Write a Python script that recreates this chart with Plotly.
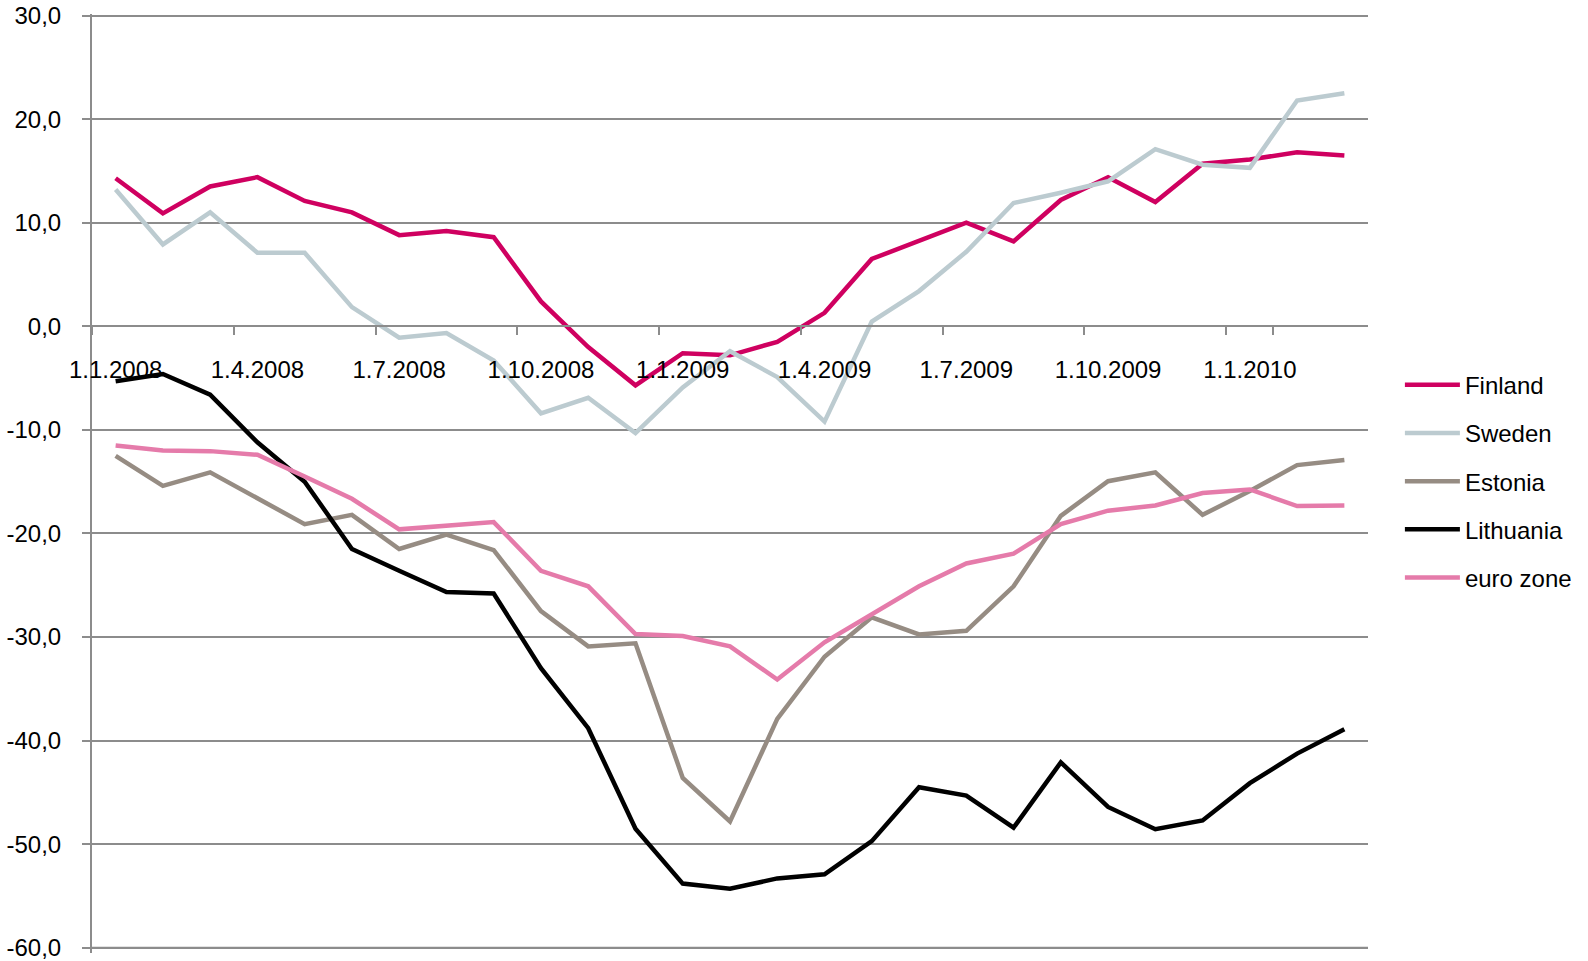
import plotly.graph_objects as go

months = ["1.1.2008", "1.2.2008", "1.3.2008", "1.4.2008", "1.5.2008", "1.6.2008",
          "1.7.2008", "1.8.2008", "1.9.2008", "1.10.2008", "1.11.2008", "1.12.2008",
          "1.1.2009", "1.2.2009", "1.3.2009", "1.4.2009", "1.5.2009", "1.6.2009",
          "1.7.2009", "1.8.2009", "1.9.2009", "1.10.2009", "1.11.2009", "1.12.2009",
          "1.1.2010", "1.2.2010", "1.3.2010"]

x_tick_labels = ["1.1.2008", "1.4.2008", "1.7.2008", "1.10.2008", "1.1.2009",
                 "1.4.2009", "1.7.2009", "1.10.2009", "1.1.2010"]

finland = [14.3, 10.9, 13.5, 14.4, 12.1, 11.0, 8.8, 9.2, 8.6, 2.4, -2.0, -5.7, -2.6,
           -2.8, -1.5, 1.3, 6.5, 8.2, 10.0, 8.2, 12.2, 14.4, 12.0, 15.7, 16.1, 16.8, 16.5]
sweden = [13.2, 7.9, 11.0, 7.1, 7.1, 1.85, -1.1, -0.65, -3.3, -8.4, -6.9, -10.3, -5.9,
          -2.4, -4.9, -9.2, 0.45, 3.4, 7.2, 11.9, 12.9, 14.0, 17.1, 15.6, 15.3, 21.8, 22.5]
estonia = [-12.5, -15.4, -14.1, -16.6, -19.1, -18.2, -21.5, -20.1, -21.6, -27.5, -30.9,
           -30.6, -43.6, -47.8, -37.9, -31.9, -28.1, -29.75, -29.4, -25.1, -18.3, -14.95,
           -14.1, -18.2, -15.9, -13.4, -12.9]
lithuania = [-5.3, -4.6, -6.6, -11.2, -15.0, -21.5, -23.6, -25.65, -25.8, -33.0, -38.8,
             -48.5, -53.8, -54.3, -53.3, -52.9, -49.7, -44.5, -45.3, -48.4, -42.1, -46.4,
             -48.55, -47.7, -44.1, -41.25, -38.9]
euro_zone = [-11.5, -12.0, -12.05, -12.4, -14.5, -16.65, -19.6, -19.2, -18.9, -23.6, -25.1,
             -29.7, -29.9, -30.9, -34.1, -30.5, -27.75, -25.1, -22.9, -21.95, -19.1, -17.8,
             -17.3, -16.1, -15.75, -17.35, -17.3]

y_tick_vals = [30, 20, 10, 0, -10, -20, -30, -40, -50, -60]
y_tick_labels = ["30,0", "20,0", "10,0", "0,0", "-10,0", "-20,0", "-30,0", "-40,0",
                 "-50,0", "-60,0"]

series = [
    ("Finland", finland, "#CF0060"),
    ("Sweden", sweden, "#BCCBD0"),
    ("Estonia", estonia, "#968C83"),
    ("Lithuania", lithuania, "#000000"),
    ("euro zone", euro_zone, "#E57BAA"),
]

FONT = "Liberation Sans"
GRID = "#8C8C8C"
Y_MIN, Y_MAX = -60.5, 30.15

fig = go.Figure()
for name, vals, color in series:
    fig.add_trace(go.Scatter(
        x=months, y=vals, name=name, mode="lines", legendgroup=name,
        line=dict(color=color, width=4.5),
    ))

fig.update_layout(
    width=1588, height=961,
    margin=dict(l=92, r=220, t=14, b=8, autoexpand=False),
    plot_bgcolor="white", paper_bgcolor="white",
    font=dict(family=FONT, size=24, color="black"),
    showlegend=True,
    legend=dict(
        x=1.025, xanchor="left", y=0.6287, yanchor="top",
        font=dict(family=FONT, size=24, color="black"),
        tracegroupgap=14, itemwidth=55,
        bgcolor="rgba(0,0,0,0)",
    ),
    xaxis=dict(
        type="category", categoryorder="array", categoryarray=months,
        range=[-0.5, len(months) - 0.5],
        anchor="free", position=(0 - Y_MIN) / (Y_MAX - Y_MIN),
        showline=True, linecolor=GRID, linewidth=2,
        ticks="outside", ticklen=8, tickcolor=GRID, tickwidth=2,
        tickson="boundaries",
        tickmode="array", tickvals=x_tick_labels, ticktext=x_tick_labels,
        tickangle=0,
        showgrid=False, zeroline=False, automargin=False,
        ticklabelstandoff=22,
        tickfont=dict(family=FONT, size=24, color="black"),
    ),
    yaxis=dict(
        range=[Y_MIN, Y_MAX],
        tickmode="array", tickvals=y_tick_vals, ticktext=y_tick_labels,
        showline=True, linecolor=GRID, linewidth=2,
        ticks="outside", ticklen=8, tickcolor=GRID, tickwidth=2,
        showgrid=True, gridcolor=GRID, gridwidth=2,
        zeroline=False, automargin=False,
        ticklabelstandoff=16, ticklabeloverflow="allow",
        tickfont=dict(family=FONT, size=24, color="black"),
    ),
    shapes=[
        dict(type="line", xref="paper", yref="paper", x0=0, x1=1,
             y0=(min(y_tick_vals) - Y_MIN) / (Y_MAX - Y_MIN),
             y1=(min(y_tick_vals) - Y_MIN) / (Y_MAX - Y_MIN),
             line=dict(color=GRID, width=2), layer="above"),
    ],
)

fig.write_html("out.html")
